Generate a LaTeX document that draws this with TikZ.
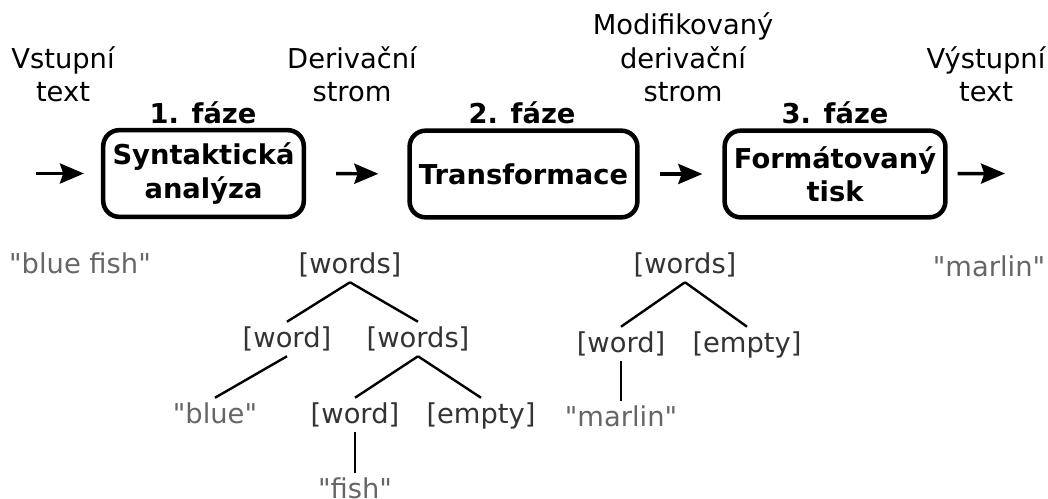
\documentclass[tikz,border=0pt]{standalone}
\usepackage{fontspec}
\setmainfont{DejaVu Sans}[Ligatures=TeXOff]
\usetikzlibrary{arrows.meta}
\definecolor{leafgray}{HTML}{666666}
\definecolor{termgray}{HTML}{333333}

\begin{document}
\begin{tikzpicture}[x=0.75pt, y=-0.75pt, font=\fontsize{20.5pt}{25pt}\selectfont]
        \tikzset{phase/.style = {shape=rectangle, draw, rounded corners=12pt,
                line width=3.4pt, minimum height=65pt, inner xsep=7pt,
                align=center, font=\fontsize{20.5pt}{25pt}\selectfont\bfseries}}
        \tikzset{heading/.style = {anchor=base, inner sep=0pt,
                font=\fontsize{20.5pt}{25pt}\selectfont\bfseries}}
        \tikzset{desc/.style = {anchor=south, inner sep=0pt, align=center}}
        \tikzset{tnode/.style = {text=termgray, text height=15.5pt,
                text depth=3pt, inner xsep=2pt, inner ysep=3.5pt}}
        \tikzset{tleaf/.style = {tnode, text=leafgray}}
        \tikzset{flow/.style = {-{Stealth[length=18pt, width=15pt, inset=2.5pt]},
                line width=2.6pt}}
        \tikzset{edge/.style = {-, line width=1.8pt}}

        \useasboundingbox (0, 0) rectangle (1048, 499);

        \node[desc] (intext) at (63, 102) {Vstupní\\text};
        \node[desc] (dtree) at (352, 102) {Derivační\\strom};
        \node[desc] (mtree) at (683, 102) {Modifikovaný\\derivační\\strom};
        \node[desc] (outtext) at (986, 102) {Výstupní\\text};

        \node[heading] (f1) at (203, 124) {1. fáze};
        \node[heading] (f2) at (522, 124) {2. fáze};
        \node[heading] (f3) at (835, 124) {3. fáze};

        \node[phase] (s1) at (203.5, 173.5) {Syntaktická\\analýza};
        \node[phase] (s2) at (523.5, 174) {Transformace};
        \node[phase] (s3) at (835, 174) {Formátovaný\\tisk};

        \coordinate (in) at (36, 173.5);
        \coordinate (out) at (1005, 173.5);

        \draw[flow, shorten >=12.75pt] (in) to (s1);
        \draw[flow, shorten <=22.5pt, shorten >=21.75pt] (s1) to (s2);
        \draw[flow, shorten <=15pt, shorten >=15pt] (s2) to (s3);
        \draw[flow, shorten <=7.5pt] (s3) to (out);

        \node[tleaf] (src) at (80, 265) {"blue fish"};
        \node[tleaf] (res) at (989, 268) {"marlin"};

        \node[tnode] (a0) at (350, 265) {[words]};
        \node[tnode] (a1) at (287, 339) {[word]};
        \node[tnode] (a2) at (418, 339) {[words]};
        \node[tleaf] (a3) at (215, 415) {"blue"};
        \node[tnode] (a4) at (355, 415) {[word]};
        \node[tnode] (a5) at (481, 415) {[empty]};
        \node[tleaf] (a6) at (355, 490) {"fish"};

        \draw[edge] (a0.south) to (a1.north);
        \draw[edge] (a0.south) to (a2.north);
        \draw[edge] (a1.south) to (a3.north);
        \draw[edge] (a2.south) to (a4.north);
        \draw[edge] (a2.south) to (a5.north);
        \draw[edge] (a4) to (a6);

        \node[tnode] (b0) at (685, 265) {[words]};
        \node[tnode] (b1) at (621, 344) {[word]};
        \node[tnode] (b2) at (747, 344) {[empty]};
        \node[tleaf] (b3) at (621, 418) {"marlin"};

        \draw[edge] (b0.south) to (b1.north);
        \draw[edge] (b0.south) to (b2.north);
        \draw[edge] (b1) to (b3);
    \end{tikzpicture}
\end{document}
